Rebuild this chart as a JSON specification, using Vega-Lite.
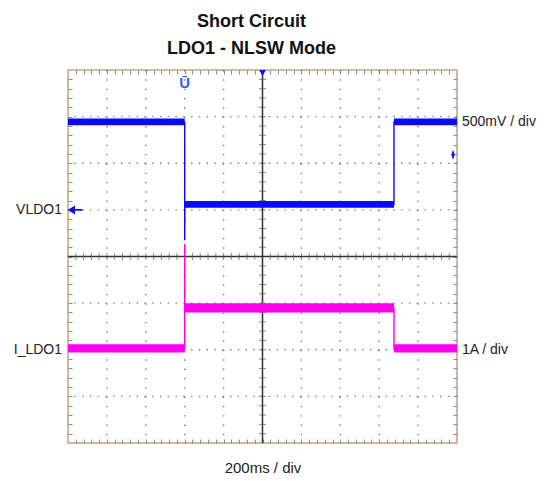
{
  "$schema": "https://vega.github.io/schema/vega-lite/v6.json",
  "width": 389,
  "height": 373,
  "autosize": {"type": "none"},
  "padding": {"left": 68, "top": 70, "right": 95, "bottom": 38},
  "background": "white",
  "config": {
    "view": {"stroke": "#c9a07a", "strokeWidth": 1.5},
    "font": "Liberation Sans"
  },
  "title": {
    "text": ["Short Circuit", "LDO1 - NLSW Mode"],
    "font": "Liberation Sans Narrow, Liberation Sans, Arial",
    "fontSize": 18,
    "fontWeight": "bold",
    "lineHeight": 27,
    "anchor": "middle",
    "frame": "group",
    "offset": 11,
    "dx": -11,
    "color": "#111111"
  },
  "resolve": {
    "scale": {"y": "independent"},
    "axis": {"x": "independent", "y": "independent"}
  },
  "layer": [
    {
      "data": {"values": [-800, -600, -400, -200, 200, 400, 600, 800]},
      "mark": {"type": "rule", "color": "#7a7a7a", "strokeWidth": 1.4, "strokeDash": [1.4, 7.93]},
      "encoding": {
        "x": {
          "field": "data", "type": "quantitative",
          "scale": {"domain": [-1000, 1000], "nice": false, "zero": false},
          "axis": {
            "orient": "bottom",
            "values": [-960,-920,-880,-840,-800,-760,-720,-680,-640,-600,-560,-520,-480,-440,-400,-360,-320,-280,-240,-200,-160,-120,-80,-40,0,40,80,120,160,200,240,280,320,360,400,440,480,520,560,600,640,680,720,760,800,840,880,920,960],
            "tickSize": -4, "tickColor": "#8a8a8a", "tickWidth": 1,
            "domain": false, "labels": false, "grid": false,
            "title": "200ms / div",
            "titleFont": "Liberation Sans", "titleFontSize": 15, "titleFontWeight": "normal",
            "titleColor": "#222222", "titlePadding": 17
          }
        }
      }
    },
    {
      "data": {"values": [-3, -2, -1, 1, 2, 3]},
      "mark": {"type": "rule", "color": "#7a7a7a", "strokeWidth": 1.4, "strokeDash": [1.4, 6.38]},
      "encoding": {
        "y": {
          "field": "data", "type": "quantitative",
          "scale": {"domain": [-4, 4], "nice": false, "zero": false},
          "axis": {
            "orient": "left",
            "values": [-3.8,-3.6,-3.4,-3.2,-3,-2.8,-2.6,-2.4,-2.2,-2,-1.8,-1.6,-1.4,-1.2,-1,-0.8,-0.6,-0.4,-0.2,0,0.2,0.4,0.6,0.8,1,1.2,1.4,1.6,1.8,2,2.2,2.4,2.6,2.8,3,3.2,3.4,3.6,3.8],
            "tickSize": -4, "tickColor": "#8a8a8a", "tickWidth": 1,
            "domain": false, "labels": false, "grid": false, "title": null
          }
        }
      }
    },
    {
      "data": {"values": [{}]},
      "mark": {"type": "rule", "color": "#333333", "strokeWidth": 1.5},
      "encoding": {
        "x": {"datum": 0, "type": "quantitative", "axis": null}
      }
    },
    {
      "data": {"values": [{}]},
      "mark": {"type": "rule", "color": "#333333", "strokeWidth": 1.5},
      "encoding": {
        "y": {"datum": 0, "type": "quantitative", "scale": {"domain": [-4, 4], "nice": false, "zero": false}, "axis": null}
      }
    },
    {
      "data": {"values": [-960,-920,-880,-840,-800,-760,-720,-680,-640,-600,-560,-520,-480,-440,-400,-360,-320,-280,-240,-200,-160,-120,-80,-40,40,80,120,160,200,240,280,320,360,400,440,480,520,560,600,640,680,720,760,800,840,880,920,960]},
      "mark": {"type": "tick", "orient": "vertical", "size": 7, "thickness": 1, "color": "#555555"},
      "encoding": {
        "x": {
          "field": "data", "type": "quantitative",
          "axis": {
            "orient": "top",
            "values": [-960,-920,-880,-840,-800,-760,-720,-680,-640,-600,-560,-520,-480,-440,-400,-360,-320,-280,-240,-200,-160,-120,-80,-40,0,40,80,120,160,200,240,280,320,360,400,440,480,520,560,600,640,680,720,760,800,840,880,920,960],
            "tickSize": -4, "tickColor": "#8a8a8a", "tickWidth": 1,
            "domain": false, "labels": false, "grid": false, "title": null
          }
        },
        "y": {"datum": 0, "type": "quantitative", "scale": {"domain": [-4, 4], "nice": false, "zero": false}, "axis": null}
      }
    },
    {
      "data": {"values": [-3.8,-3.6,-3.4,-3.2,-3,-2.8,-2.6,-2.4,-2.2,-2,-1.8,-1.6,-1.4,-1.2,-1,-0.8,-0.6,-0.4,-0.2,0.2,0.4,0.6,0.8,1,1.2,1.4,1.6,1.8,2,2.2,2.4,2.6,2.8,3,3.2,3.4,3.6,3.8]},
      "mark": {"type": "tick", "orient": "horizontal", "size": 7, "thickness": 1, "color": "#555555"},
      "encoding": {
        "y": {
          "field": "data", "type": "quantitative",
          "scale": {"domain": [-4, 4], "nice": false, "zero": false},
          "axis": {
            "orient": "right",
            "values": [-3.8,-3.6,-3.4,-3.2,-3,-2.8,-2.6,-2.4,-2.2,-2,-1.8,-1.6,-1.4,-1.2,-1,-0.8,-0.6,-0.4,-0.2,0,0.2,0.4,0.6,0.8,1,1.2,1.4,1.6,1.8,2,2.2,2.4,2.6,2.8,3,3.2,3.4,3.6,3.8],
            "tickSize": -4, "tickColor": "#8a8a8a", "tickWidth": 1,
            "domain": false, "labels": false, "grid": false, "title": null
          }
        },
        "x": {"datum": 0, "type": "quantitative", "axis": null}
      }
    },
    {
      "data": {"values": [
        {"t1": -1000, "t2": -400, "lo": 0.908, "hi": 0.98},
        {"t1": -400, "t2": 676, "lo": 0.022, "hi": 0.096},
        {"t1": 676, "t2": 1000, "lo": 0.908, "hi": 0.98}
      ]},
      "mark": {"type": "rect", "color": "#0a0af5"},
      "encoding": {
        "x": {"field": "t1", "type": "quantitative", "axis": null},
        "x2": {"field": "t2"},
        "y": {"field": "lo", "type": "quantitative", "scale": {"domain": [-2.5, 1.5], "nice": false, "zero": false}, "axis": null},
        "y2": {"field": "hi"}
      }
    },
    {
      "data": {"values": [
        {"i": 0, "t": -1000, "v": 0.944},
        {"i": 1, "t": -400, "v": 0.944},
        {"i": 2, "t": -400, "v": -0.325},
        {"i": 3, "t": -399, "v": 0.06},
        {"i": 4, "t": 676, "v": 0.06},
        {"i": 5, "t": 676, "v": 0.944},
        {"i": 6, "t": 1000, "v": 0.944}
      ]},
      "mark": {"type": "line", "color": "#0a0af5", "strokeWidth": 1.4},
      "encoding": {
        "x": {"field": "t", "type": "quantitative", "axis": null},
        "y": {"field": "v", "type": "quantitative", "scale": {"domain": [-2.5, 1.5], "nice": false, "zero": false}, "axis": null},
        "order": {"field": "i"}
      }
    },
    {
      "data": {"values": [
        {"t1": -1000, "t2": -400, "lo": -0.06, "hi": 0.12},
        {"t1": -400, "t2": 676, "lo": 0.8, "hi": 1.0},
        {"t1": 676, "t2": 1000, "lo": -0.06, "hi": 0.12}
      ]},
      "mark": {"type": "rect", "color": "#ff00ee"},
      "encoding": {
        "x": {"field": "t1", "type": "quantitative", "axis": null},
        "x2": {"field": "t2"},
        "y": {"field": "lo", "type": "quantitative", "scale": {"domain": [-2, 6], "nice": false, "zero": false}, "axis": null},
        "y2": {"field": "hi"}
      }
    },
    {
      "data": {"values": [
        {"i": 0, "t": -1000, "a": 0.03},
        {"i": 1, "t": -400, "a": 0.03},
        {"i": 2, "t": -400, "a": 2.27},
        {"i": 3, "t": -399, "a": 0.9},
        {"i": 4, "t": 676, "a": 0.9},
        {"i": 5, "t": 676, "a": 0.03},
        {"i": 6, "t": 1000, "a": 0.03}
      ]},
      "mark": {"type": "line", "color": "#ff00ee", "strokeWidth": 1.4},
      "encoding": {
        "x": {"field": "t", "type": "quantitative", "axis": null},
        "y": {"field": "a", "type": "quantitative", "scale": {"domain": [-2, 6], "nice": false, "zero": false}, "axis": null},
        "order": {"field": "i"}
      }
    },
    {
      "data": {"values": [{}]},
      "mark": {"type": "text", "text": "VLDO1", "align": "right", "baseline": "middle", "dx": -6, "fontSize": 14, "color": "#222222"},
      "encoding": {
        "x": {"datum": -1000, "type": "quantitative", "axis": null},
        "y": {"datum": 0, "type": "quantitative", "scale": {"domain": [-2.5, 1.5], "nice": false, "zero": false}, "axis": null}
      }
    },
    {
      "data": {"values": [{}]},
      "mark": {"type": "text", "text": "500mV / div", "align": "left", "baseline": "middle", "dx": 5, "fontSize": 14, "color": "#222222"},
      "encoding": {
        "x": {"datum": 1000, "type": "quantitative", "axis": null},
        "y": {"datum": 0.944, "type": "quantitative", "scale": {"domain": [-2.5, 1.5], "nice": false, "zero": false}, "axis": null}
      }
    },
    {
      "data": {"values": [{}]},
      "mark": {"type": "text", "text": "I_LDO1", "align": "right", "baseline": "middle", "dx": -6, "fontSize": 14, "color": "#222222"},
      "encoding": {
        "x": {"datum": -1000, "type": "quantitative", "axis": null},
        "y": {"datum": 0, "type": "quantitative", "scale": {"domain": [-2, 6], "nice": false, "zero": false}, "axis": null}
      }
    },
    {
      "data": {"values": [{}]},
      "mark": {"type": "text", "text": "1A / div", "align": "left", "baseline": "middle", "dx": 5, "fontSize": 14, "color": "#222222"},
      "encoding": {
        "x": {"datum": 1000, "type": "quantitative", "axis": null},
        "y": {"datum": 0, "type": "quantitative", "scale": {"domain": [-2, 6], "nice": false, "zero": false}, "axis": null}
      }
    },
    {
      "data": {"values": [{}]},
      "mark": {"type": "point", "shape": "M-1,0L0,-0.6L0,-0.13L1,-0.13L1,0.13L0,0.13L0,0.6Z", "size": 225, "filled": true, "opacity": 1, "color": "#1010f0", "xOffset": 7},
      "encoding": {
        "x": {"datum": -1000, "type": "quantitative", "axis": null},
        "y": {"datum": 0, "type": "quantitative", "scale": {"domain": [-2.5, 1.5], "nice": false, "zero": false}, "axis": null}
      }
    },
    {
      "data": {"values": [{}]},
      "mark": {"type": "point", "shape": "M0,-1L0.35,0L0,1L-0.35,0Z", "size": 100, "filled": true, "opacity": 1, "color": "#1010f0", "xOffset": -4},
      "encoding": {
        "x": {"datum": 1000, "type": "quantitative", "axis": null},
        "y": {"datum": 0.59, "type": "quantitative", "scale": {"domain": [-2.5, 1.5], "nice": false, "zero": false}, "axis": null}
      }
    },
    {
      "data": {"values": [{}]},
      "mark": {"type": "point", "shape": "triangle-down", "size": 45, "filled": true, "opacity": 1, "color": "#1010f0", "yOffset": 3},
      "encoding": {
        "x": {"datum": 0, "type": "quantitative", "axis": null},
        "y": {"datum": 1.5, "type": "quantitative", "scale": {"domain": [-2.5, 1.5], "nice": false, "zero": false}, "axis": null}
      }
    },
    {
      "data": {"values": [{}]},
      "mark": {"type": "text", "text": "Ū", "align": "center", "baseline": "middle", "dy": 13, "fontSize": 15, "fontWeight": "bold", "color": "#3060f0"},
      "encoding": {
        "x": {"datum": -400, "type": "quantitative", "axis": null},
        "y": {"datum": 1.5, "type": "quantitative", "scale": {"domain": [-2.5, 1.5], "nice": false, "zero": false}, "axis": null}
      }
    }
  ]
}
